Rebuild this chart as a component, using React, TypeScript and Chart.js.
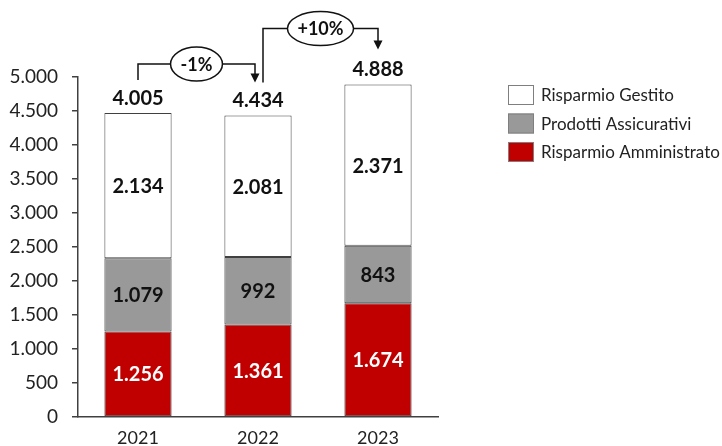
import React, { useEffect, useRef } from "react";
import { Chart, registerables } from "chart.js";

Chart.register(...registerables);

const categories = ["2021", "2022", "2023"];
const amministrato = [1256, 1361, 1674];
const assicurativi = [1079, 992, 843];
const gestito = [2134, 2081, 2371];
const totalLabels = ["4.005", "4.434", "4.888"];
const changeLabels = ["-1%", "+10%"];
const seriesNames = ["Risparmio Amministrato", "Prodotti Assicurativi", "Risparmio Gestito"];
const seriesColors = ["#C00000", "#999999", "#FFFFFF"];
const labelColors = ["#FFFFFF", "#111111", "#111111"];

const FONT = "Lato, 'Open Sans', sans-serif";

const fmt = (n: number) => String(n).replace(/\B(?=(\d{3})+(?!\d))/g, ".");

const annotations = {
  id: "annotations",
  afterDatasetsDraw(chart: any) {
    const ctx = chart.ctx;
    ctx.save();
    // segment labels
    chart.data.datasets.forEach((ds: any, di: number) => {
      const meta = chart.getDatasetMeta(di);
      meta.data.forEach((bar: any, i: number) => {
        ctx.font = `bold 20px ${FONT}`;
        ctx.fillStyle = labelColors[di];
        ctx.textAlign = "center";
        ctx.textBaseline = "middle";
        ctx.fillText(fmt(ds.data[i]), bar.x, (bar.y + bar.base) / 2 + 1);
      });
    });
    // totals
    const topMeta = chart.getDatasetMeta(chart.data.datasets.length - 1);
    const tops = topMeta.data.map((b: any) => b.y);
    const xs = topMeta.data.map((b: any) => b.x);
    ctx.font = `bold 20px ${FONT}`;
    ctx.fillStyle = "#111111";
    totalLabels.forEach((t, i) => {
      ctx.fillText(t, xs[i], tops[i] - 15);
    });
    // change arrows
    const arrows = [
      { x1: xs[0], y1: tops[0] - 33, x2: xs[1] - 3, y2: tops[1] - 33, h: Math.min(tops[0], tops[1]) - 49 },
      { x1: xs[1] + 5, y1: tops[1] - 33, x2: xs[2], y2: tops[2] - 35, h: tops[2] - 56 },
    ];
    arrows.forEach((a, i) => {
      ctx.strokeStyle = "#111111";
      ctx.fillStyle = "#111111";
      ctx.lineWidth = 1.5;
      ctx.beginPath();
      ctx.moveTo(a.x1, a.y1);
      ctx.lineTo(a.x1, a.h);
      ctx.lineTo(a.x2, a.h);
      ctx.lineTo(a.x2, a.y2 - 8);
      ctx.stroke();
      ctx.beginPath();
      ctx.moveTo(a.x2 - 4.5, a.y2 - 9);
      ctx.lineTo(a.x2 + 4.5, a.y2 - 9);
      ctx.lineTo(a.x2, a.y2);
      ctx.closePath();
      ctx.fill();
      const cx = (a.x1 + a.x2) / 2;
      ctx.font = `bold 18px ${FONT}`;
      const w = ctx.measureText(changeLabels[i]).width;
      ctx.beginPath();
      ctx.ellipse(cx, a.h, w / 2 + 10, 17, 0, 0, Math.PI * 2);
      ctx.fillStyle = "#FFFFFF";
      ctx.fill();
      ctx.stroke();
      ctx.fillStyle = "#111111";
      ctx.textAlign = "center";
      ctx.textBaseline = "middle";
      ctx.fillText(changeLabels[i], cx, a.h + 1);
    });
    // legend
    const order = [2, 1, 0];
    order.forEach((di, r) => {
      const cy = 95 + r * 28.5;
      ctx.fillStyle = seriesColors[di];
      ctx.fillRect(508, cy - 10, 26, 20);
      ctx.strokeStyle = "#7F7F7F";
      ctx.lineWidth = 1;
      ctx.strokeRect(508.5, cy - 9.5, 25, 19);
      ctx.fillStyle = "#222222";
      ctx.font = `17px ${FONT}`;
      ctx.textAlign = "left";
      ctx.textBaseline = "middle";
      ctx.fillText(seriesNames[di], 541, cy + 1);
    });
    ctx.restore();
  },
};

export default function App() {
  const ref = useRef<HTMLCanvasElement | null>(null);
  useEffect(() => {
    if (!ref.current) return;
    const series = [amministrato, assicurativi, gestito];
    const chart = new Chart(ref.current, {
      type: "bar",
      data: {
        labels: categories,
        datasets: series.map((d, i) => ({
          label: seriesNames[i],
          data: d,
          backgroundColor: seriesColors[i],
          borderColor: "#404040",
          borderWidth: 1,
          borderSkipped: false,
          barPercentage: 0.56,
          categoryPercentage: 1,
        })),
      },
      options: {
        responsive: false,
        animation: false,
        layout: { padding: { left: 0, top: 77, right: 284, bottom: 0 } },
        plugins: { legend: { display: false }, tooltip: { enabled: false } },
        scales: {
          x: {
            stacked: true,
            grid: { display: false, drawTicks: false },
            border: { display: true, color: "#404040", width: 1.5 },
            ticks: { font: { family: FONT, size: 18 }, color: "#222222", padding: 10 },
            afterFit: (s: any) => {
              s.height = 29;
            },
          },
          y: {
            stacked: true,
            min: 0,
            max: 5000,
            grid: { display: true, drawOnChartArea: false, drawTicks: true, tickLength: 6, color: "#404040", lineWidth: 1.5 },
            border: { display: true, color: "#404040", width: 1.5 },
            ticks: {
              stepSize: 500,
              padding: 14,
              font: { family: FONT, size: 19 },
              color: "#222222",
              callback: (v: any) => fmt(Number(v)),
            },
            afterFit: (s: any) => {
              s.width = 78;
            },
          },
        },
      },
      plugins: [annotations],
    });
    return () => chart.destroy();
  }, []);
  return (
    <div style={{ position: "fixed", left: 0, top: 0, width: 722, height: 446, background: "#fff" }}>
      <canvas ref={ref} width={722} height={446} style={{ width: 722, height: 446 }} />
    </div>
  );
}
